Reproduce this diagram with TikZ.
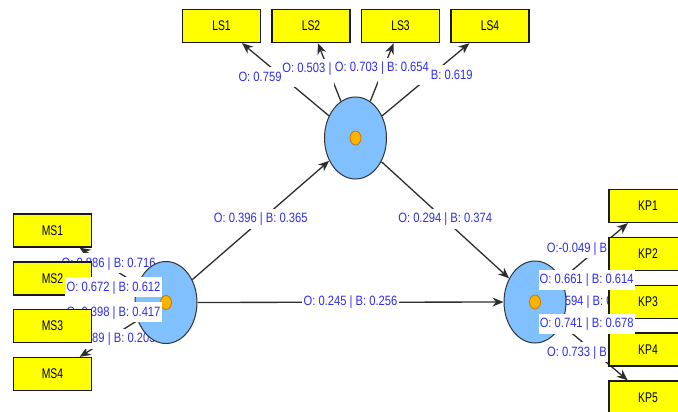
\documentclass[tikz,border=0pt]{standalone}
\usepackage{fontspec}
\setmainfont{Liberation Sans}
\newfontfamily\lblfont{Liberation Sans}[FakeStretch=0.83]
\newfontfamily\bxfont{Liberation Sans}[FakeStretch=0.74]
\usetikzlibrary{shapes.geometric,arrows.meta}
\definecolor{lblblue}{RGB}{45,45,245}
\definecolor{lvblue}{RGB}{128,192,255}
\definecolor{boxyellow}{RGB}{255,255,0}
\definecolor{lnc}{RGB}{45,45,45}
\definecolor{dotfill}{RGB}{255,178,0}
\definecolor{dotedge}{RGB}{200,115,0}
\pgfdeclarelayer{lines}
\pgfdeclarelayer{labA}
\pgfdeclarelayer{lvl}
\pgfdeclarelayer{boxA}
\pgfdeclarelayer{labB}
\pgfsetlayers{lines,labA,lvl,boxA,labB,main}
\begin{document}
\begin{tikzpicture}[x=1pt,y=-1pt,
 ind/.style={draw=black!90, line width=1.3pt, fill=boxyellow, minimum width=78pt, minimum height=33pt, inner sep=0pt, font=\bxfont\fontsize{14}{14}\selectfont},
 lv/.style={ellipse, draw=black!80, line width=1pt, fill=lvblue, minimum width=62pt, minimum height=82pt, inner sep=0pt},
 dotc/.style={ellipse, draw=dotedge, line width=0.8pt, fill=dotfill, minimum width=11pt, minimum height=14pt, inner sep=0pt},
 con/.style={draw=lnc, line width=1.3pt, -{Stealth[length=11pt,width=9pt,inset=3.5pt]}},
 lbl/.style={fill=white, text=lblblue, inner xsep=1.2pt, inner ysep=0pt, text height=10.5pt, text depth=3pt, minimum height=20pt, font=\lblfont\fontsize{13.5}{14}\selectfont}
]
\useasboundingbox (0,0) rectangle (678,412);
\clip (0,0) rectangle (678,412);

% latent variables
\begin{pgfonlayer}{lvl}
\node[lv] (LSV) at (355.5,138) {};
\node[lv] (MSV) at (166,302.5) {};
\node[lv] (KPV) at (535,302) {};
\node[dotc] (dLS) at (LSV.center) {};
\node[dotc] (dMS) at (MSV.center) {};
\node[dotc] (dKP) at (KPV.center) {};
\end{pgfonlayer}

% indicator boxes
\begin{pgfonlayer}{boxA}
\node[ind] (LS1) at (221.5,26) {LS1};
\node[ind] (LS2) at (311,26) {LS2};
\node[ind] (LS3) at (400.5,26) {LS3};
\node[ind] (LS4) at (490,26) {LS4};
\node[ind] (MS1) at (52.5,230.5) {MS1};
\node[ind] (MS2) at (52.5,278.5) {MS2};
\node[ind] (MS4) at (52.5,374) {MS4};
\node[ind] (KP1) at (648,206) {KP1};
\node[ind] (KP2) at (648,254) {KP2};
\node[ind] (KP3) at (648,302) {KP3};
\node[ind] (KP4) at (648,349.5) {KP4};
\node[ind] (KP5) at (648,397.5) {KP5};
\end{pgfonlayer}
\node[ind] (MS3) at (52.5,326) {MS3};

% connectors
\begin{pgfonlayer}{lines}
\draw[con] (LSV) -- (LS1);
\draw[con] (LSV) -- (LS2);
\draw[con] (LSV) -- (LS3);
\draw[con] (LSV) -- (LS4);
\draw[con] (MSV) -- (LSV);
\draw[con] (LSV) -- (KPV);
\draw[con] (MSV) -- (KPV);
\draw[con] (MSV) -- (MS1);
\draw[con] (MSV) -- (MS2);
\draw[con] (MSV) -- (MS3);
\draw[con] (MSV) -- (MS4);
\draw[con] (KPV) -- (KP1);
\draw[con] (KPV) -- (KP2);
\draw[con] (KPV) -- (KP3);
\draw[con] (KPV) -- (KP4);
\draw[con] (KPV) -- (KP5);
\end{pgfonlayer}

% labels, lower layer
\begin{pgfonlayer}{labA}
\path (MSV) -- (LSV) node[lbl, midway, yshift=1.5pt] (t1) {O: 0.396 | B: 0.365};
\path (LSV) -- (KPV) node[lbl, midway, yshift=1.5pt] (t2) {O: 0.294 | B: 0.374};
\path (MSV) -- (KPV) node[lbl, midway, yshift=1pt] (t3) {O: 0.245 | B: 0.256};
\path (LSV) -- (LS1) node[lbl, midway, yshift=2pt] (l1) {O: 0.759\phantom{ | B: 0.000}};
\path (LSV) -- (LS2) node[lbl, midway, yshift=3pt] (l2) {O: 0.503 |\phantom{ B: 0.000}};
\path (LSV) -- (LS4) node[lbl, midway, yshift=4pt] (l4) {\phantom{O: 0.000 | }B: 0.619};
\path (LSV) -- (LS3) node[lbl, midway, yshift=4pt] (l3) {O: 0.703 | B: 0.654};
\path (MSV) -- (MS1) node[lbl, midway, yshift=2.7pt] (m1) {O: 0.886 | B: 0.716};
\path (MSV) -- (MS4) node[lbl, midway] (m4) {\phantom{O: 0.1}89 | B: 0.203};
\path (KPV) -- (KP1) node[lbl, midway, yshift=3pt] (k1) {O:-0.049 | B\phantom{: 0.000}};
\path (KPV) -- (KP3) node[lbl, midway] (k3) {\phantom{O: 0.}594 | B: 0\phantom{.000}};
\path (KPV) -- (KP5) node[lbl, midway] (k5) {O: 0.733 | B\phantom{: 0.000}};
\end{pgfonlayer}

% labels, upper layer
\begin{pgfonlayer}{labB}
\path (MSV) -- (MS2) node[lbl, midway, yshift=4pt] (m2) {O: 0.672 | B: 0.612};
\path (MSV) -- (MS3) node[lbl, midway, yshift=1pt] (m3) {O: 0.398 | B: 0.417};
\path (KPV) -- (KP2) node[lbl, midway] (k2) {O: 0.661 | B: 0.614};
\path (KPV) -- (KP4) node[lbl, midway] (k4) {O: 0.741 | B: 0.678};
\end{pgfonlayer}
\end{tikzpicture}
\end{document}
